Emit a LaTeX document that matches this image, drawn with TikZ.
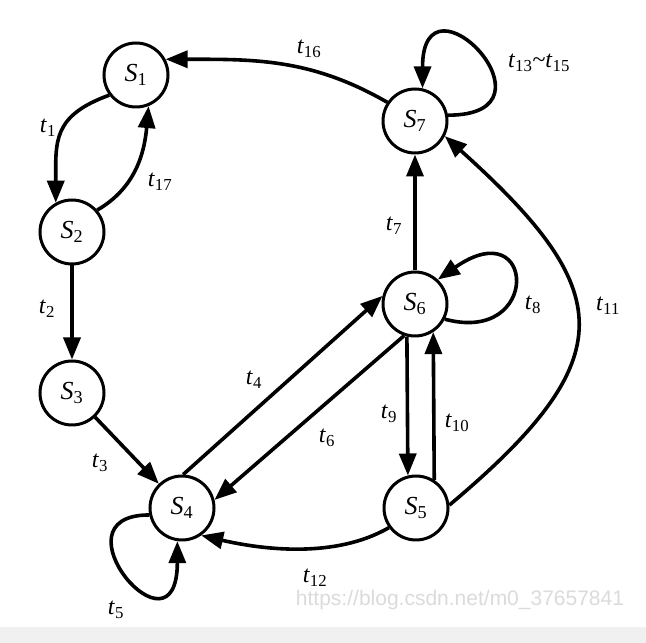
\documentclass[tikz,border=0pt]{standalone}
\usepackage{fontspec}
\setmainfont{Liberation Serif}
\newfontfamily\wmfont{Liberation Sans}
\usetikzlibrary{arrows.meta}
\newcommand\myS[1]{\textit{S}\textsubscript{#1}}
\newcommand\myt[1]{\textit{t}\textsubscript{#1}}
\begin{document}
\begin{tikzpicture}[x=1pt,y=1pt,
  state/.style={circle, draw, line width=3pt, minimum size=64pt, inner sep=0pt,
                font=\fontsize{26}{26}\selectfont},
  arr/.style={line width=3.6pt, -{Triangle[length=22pt,width=17pt]}},
  lbl/.style={font=\fontsize{24}{24}\selectfont, inner sep=0pt}]
\useasboundingbox (0,0) rectangle (646,643);
\fill[white] (0,0) rectangle (646,643);
\fill[black!6] (0,0) rectangle (646,16);

\node[state] (S1) at (136,568) {\myS{1}};
\node[state] (S2) at (72,411) {\myS{2}};
\node[state] (S3) at (72,250) {\myS{3}};
\node[state] (S4) at (182,135) {\myS{4}};
\node[state] (S5) at (416,135) {\myS{5}};
\node[state] (S6) at (415,339) {\myS{6}};
\node[state] (S7) at (415,522) {\myS{7}};

\draw[arr] (S7.146) to[out=150,in=0] (S1.28);
\draw[arr] (S1.217) to[out=200,in=90,looseness=1.3] (S2.119);
\draw[arr] (S2.41) to[out=30,in=-95] (S1.292);
\draw[arr] (S2) -- (S3);
\draw[arr] (S3) -- (S4);
\draw[arr] (S4.88) -- (S6.166);
\draw[arr] (S6.251) -- (S4.14);
\draw[arr] (S4.192) .. controls +(180:100) and +(-90:125) .. (S4.262);
\draw[arr] (S6) -- (S7);
\draw[arr] (S6.333) .. controls +(-15:100) and +(35:120) .. (S6.47);
\draw[arr] (S6.256) -- (S5.104);
\draw[arr] (S5.57) -- (S6.303);
\draw[arr] (S5.5) .. controls +(40:230) and +(-42:230) .. (S7.333);
\draw[arr] (S5.216) to[out=210,in=-13,looseness=0.85] (S4.305);
\draw[arr] (S7.10) .. controls +(0:120) and +(90:125) .. (S7.77);

\node[lbl] (l16) at (309,594) {\myt{16}};
\node[lbl] (l1) at (48,515) {\myt{1}};
\node[lbl] (l17) at (160,461) {\myt{17}};
\node[lbl] (l2) at (47,334) {\myt{2}};
\node[lbl] (l3) at (100,180) {\myt{3}};
\node[lbl] (l4) at (254,263) {\myt{4}};
\node[lbl] (l6) at (327,205) {\myt{6}};
\node[lbl] (l5) at (116,33) {\myt{5}};
\node[lbl] (l12) at (315,65) {\myt{12}};
\node[lbl] (l7) at (394,417) {\myt{7}};
\node[lbl] (l8) at (533,338) {\myt{8}};
\node[lbl] (l9) at (389,229) {\myt{9}};
\node[lbl] (l10) at (457,220) {\myt{10}};
\node[lbl] (l11) at (608,337) {\myt{11}};
\node[lbl] (l13) at (539,580) {\myt{13}\textasciitilde\myt{15}};

\node[text=black!14, font=\wmfont\fontsize{21}{21}\selectfont, inner sep=0pt] (wm) at (460,43) {https://blog.csdn.net/m0\_37657841};
\end{tikzpicture}
\end{document}
